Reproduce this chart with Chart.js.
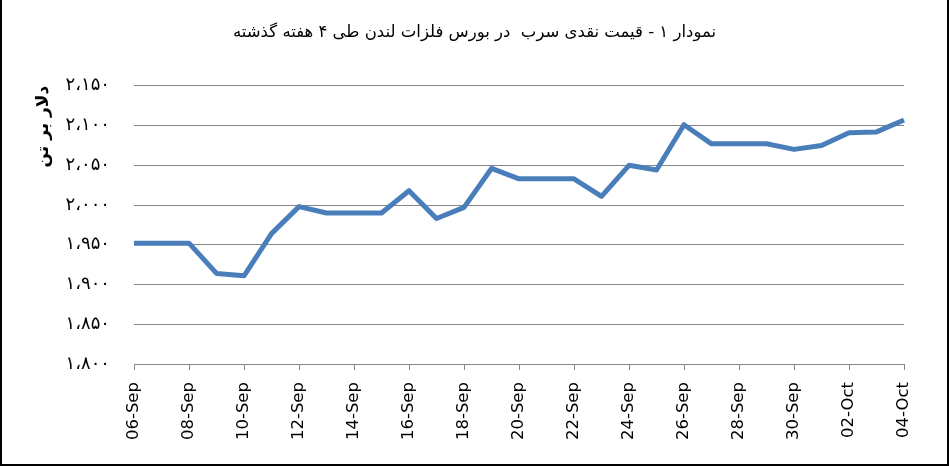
<!DOCTYPE html>
<html><head><meta charset="utf-8">
<script src="https://cdn.jsdelivr.net/npm/chart.js@4"></script>
<style>html,body{margin:0;padding:0;background:#fff}#wrap{width:949px;height:466px;position:relative}</style>
</head><body><div id="wrap"><canvas id="c" width="949" height="466"></canvas></div>
<script>
const categories = ['06-Sep','07-Sep','08-Sep','09-Sep','10-Sep','11-Sep','12-Sep','13-Sep','14-Sep','15-Sep','16-Sep','17-Sep','18-Sep','19-Sep','20-Sep','21-Sep','22-Sep','23-Sep','24-Sep','25-Sep','26-Sep','27-Sep','28-Sep','29-Sep','30-Sep','01-Oct','02-Oct','03-Oct','04-Oct'];
const leadPrice = [1952,1952,1952,1914,1911,1964,1998,1990,1990,1990,2018,1983,1997,2046,2033,2033,2033,2011,2050,2044,2101,2077,2077,2077,2070,2075,2091,2092,2107];
const yTickValues = [1800,1850,1900,1950,2000,2050,2100,2150];
const yTickLabels = ['۱،۸۰۰','۱،۸۵۰','۱،۹۰۰','۱،۹۵۰','۲،۰۰۰','۲،۰۵۰','۲،۱۰۰','۲،۱۵۰'];
const chartTitle = 'نمودار ۱ - قیمت نقدی سرب  در بورس فلزات لندن طی ۴ هفته گذشته';
const yAxisTitle = 'دلار بر تن';

const frame = {
  id: 'frame',
  afterDraw(chart) {
    const ctx = chart.ctx;
    ctx.save();
    ctx.strokeStyle = '#000';
    ctx.lineWidth = 2;
    ctx.beginPath();
    ctx.moveTo(1, 0); ctx.lineTo(1, 465);
    ctx.lineTo(948, 465); ctx.lineTo(948, 0);
    ctx.stroke();
    ctx.restore();
  }
};

new Chart(document.getElementById('c'), {
  type: 'line',
  data: {
    labels: categories,
    datasets: [{
      data: leadPrice,
      borderColor: '#4a7ebb',
      borderWidth: 5,
      pointRadius: 0,
      tension: 0,
      borderJoinStyle: 'round',
      borderCapStyle: 'butt',
      fill: false
    }]
  },
  options: {
    responsive: false,
    animation: false,
    layout: { padding: { left: 0, right: 0, top: 0, bottom: 0 } },
    plugins: {
      legend: { display: false },
      tooltip: { enabled: false },
      title: {
        display: true,
        text: chartTitle,
        color: '#000',
        font: { family: 'DejaVu Sans', size: 16.5, weight: 'normal' },
        padding: { top: 23, bottom: 43 }
      }
    },
    scales: {
      x: {
        type: 'category',
        offset: false,
        afterFit(s) { s.height = 102; },
        grid: { display: true, drawOnChartArea: false, drawTicks: true, tickLength: 6, color: '#868686' },
        border: { display: true, color: '#868686', width: 1 },
        ticks: {
          autoSkip: false,
          maxRotation: 90, minRotation: 90,
          padding: 12,
          color: '#000',
          font: { family: 'DejaVu Sans', size: 16.5 },
          callback(v, i) { return i % 2 === 0 ? categories[i] : null; }
        }
      },
      y: {
        min: 1800, max: 2150,
        afterFit(s) { s.width = 134; },
        afterBuildTicks(s) { s.ticks = yTickValues.map(v => ({ value: v })); },
        grid: { color: '#868686', drawTicks: false, lineWidth: 1 },
        border: { display: false },
        ticks: {
          padding: 24,
          color: '#000',
          font: { family: 'DejaVu Sans', size: 18 },
          callback(v) { const i = yTickValues.indexOf(v); return i >= 0 ? yTickLabels[i] : ''; }
        },
        title: {
          display: true,
          text: yAxisTitle,
          align: 'end',
          color: '#000',
          font: { family: 'DejaVu Sans', size: 17, weight: 'bold' },
          padding: { top: 33, bottom: 0 }
        }
      },
      spacer: {
        type: 'linear',
        position: 'right',
        display: true,
        afterFit(s) { s.width = 45; },
        grid: { display: false, drawTicks: false },
        border: { display: false },
        ticks: { display: false }
      }
    }
  },
  plugins: [frame]
});
</script>
</body></html>
